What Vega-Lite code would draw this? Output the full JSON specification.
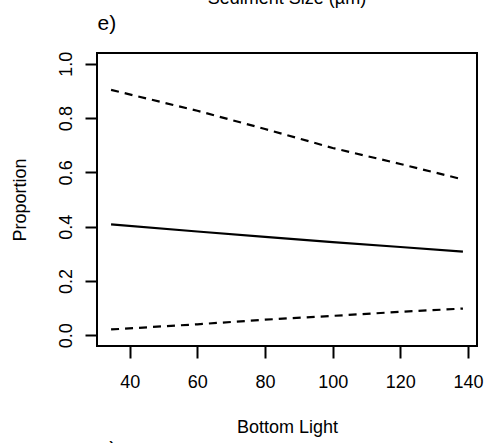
{
  "$schema": "https://vega.github.io/schema/vega-lite/v6.json",
  "width": 380,
  "height": 293,
  "autosize": {"type": "none"},
  "padding": {"left": 97, "top": 53, "right": 9, "bottom": 97},
  "background": "white",
  "title": {
    "text": "Sediment Size (µm)",
    "anchor": "middle",
    "frame": "group",
    "font": "Liberation Sans",
    "fontSize": 18,
    "fontWeight": "normal",
    "color": "black",
    "baseline": "alphabetic",
    "offset": 0,
    "dy": 10
  },
  "config": {
    "view": {"stroke": "black", "strokeWidth": 2},
    "axis": {
      "labelFont": "Liberation Sans",
      "titleFont": "Liberation Sans",
      "labelFontSize": 18,
      "titleFontSize": 18,
      "labelColor": "black",
      "titleColor": "black",
      "titleFontWeight": "normal",
      "tickColor": "black",
      "tickWidth": 2,
      "tickSize": 12,
      "domain": false,
      "grid": false
    }
  },
  "data": {
    "values": [
      {"light": 34.5, "p": 0.904, "series": "upper"},
      {"light": 60, "p": 0.827, "series": "upper"},
      {"light": 80, "p": 0.760, "series": "upper"},
      {"light": 100, "p": 0.690, "series": "upper"},
      {"light": 120, "p": 0.631, "series": "upper"},
      {"light": 138.5, "p": 0.574, "series": "upper"},
      {"light": 34.5, "p": 0.408, "series": "fit"},
      {"light": 60, "p": 0.382, "series": "fit"},
      {"light": 80, "p": 0.362, "series": "fit"},
      {"light": 100, "p": 0.343, "series": "fit"},
      {"light": 120, "p": 0.325, "series": "fit"},
      {"light": 138.5, "p": 0.308, "series": "fit"},
      {"light": 34.5, "p": 0.021, "series": "lower"},
      {"light": 60, "p": 0.040, "series": "lower"},
      {"light": 80, "p": 0.057, "series": "lower"},
      {"light": 100, "p": 0.071, "series": "lower"},
      {"light": 120, "p": 0.086, "series": "lower"},
      {"light": 138.5, "p": 0.098, "series": "lower"}
    ]
  },
  "layer": [
    {
      "transform": [{"filter": "datum.series === 'upper'"}],
      "mark": {"type": "line", "color": "black", "strokeWidth": 2.2, "strokeDash": [8, 6], "strokeCap": "butt"},
      "encoding": {
        "x": {
          "field": "light", "type": "quantitative",
          "scale": {"domain": [30.34, 142.66], "nice": false, "zero": false},
          "axis": {
            "orient": "bottom",
            "values": [40, 60, 80, 100, 120, 140],
            "labelBaseline": "alphabetic",
            "labelPadding": 29,
            "labelFlush": false,
            "labelOverlap": false,
            "title": "Bottom Light",
            "titleBaseline": "alphabetic",
            "titlePadding": 41
          }
        },
        "y": {
          "field": "p", "type": "quantitative",
          "scale": {"domain": [-0.04, 1.04], "nice": false, "zero": false},
          "axis": {
            "values": [0, 0.2, 0.4, 0.6, 0.8, 1.0],
            "format": ".1f",
            "labelAngle": 270,
            "labelAlign": "center",
            "labelBaseline": "alphabetic",
            "labelPadding": 14,
            "labelFlush": false,
            "labelOverlap": false,
            "title": "Proportion",
            "titleBaseline": "alphabetic",
            "titlePadding": 32
          }
        }
      }
    },
    {
      "transform": [{"filter": "datum.series === 'fit'"}],
      "mark": {"type": "line", "color": "black", "strokeWidth": 2.2},
      "encoding": {
        "x": {
          "field": "light", "type": "quantitative",
          "axis": {
            "orient": "top",
            "labels": false,
            "ticks": false,
            "title": "e)",
            "titleFontSize": 21,
            "titleAnchor": "start",
            "titleAlign": "left",
            "titleBaseline": "alphabetic",
            "titlePadding": 24
          }
        },
        "y": {"field": "p", "type": "quantitative"}
      }
    },
    {
      "transform": [{"filter": "datum.series === 'lower'"}],
      "mark": {"type": "line", "color": "black", "strokeWidth": 2.2, "strokeDash": [8, 6], "strokeCap": "butt"},
      "encoding": {
        "x": {
          "field": "light", "type": "quantitative",
          "axis": {
            "orient": "bottom",
            "labels": false,
            "ticks": false,
            "title": "g)",
            "titleFontSize": 21,
            "titleAnchor": "start",
            "titleAlign": "left",
            "titleBaseline": "top",
            "titlePadding": 92
          }
        },
        "y": {"field": "p", "type": "quantitative"}
      }
    }
  ],
  "resolve": {"axis": {"x": "independent"}}
}
